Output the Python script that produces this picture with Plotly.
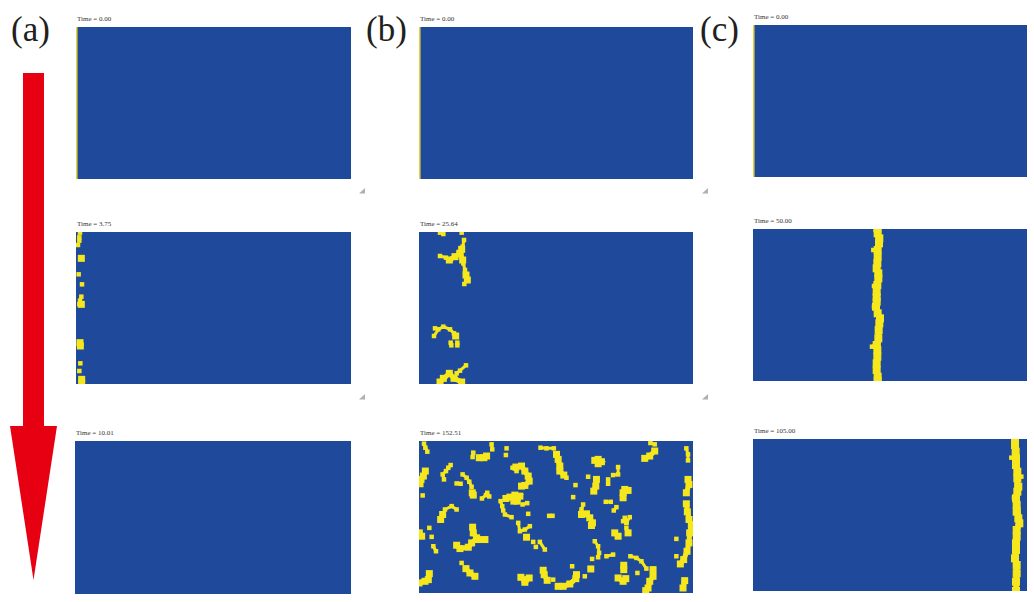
import plotly.graph_objects as go

W, H = 1034, 602
BLUE = "#1f4a9b"
YELLOW = "#f6e71d"

panel_times = ["Time = 0.00", "Time = 3.75", "Time = 10.01",
               "Time = 0.00", "Time = 25.64", "Time = 152.51",
               "Time = 0.00", "Time = 50.00", "Time = 105.00"]
group_labels = ["(a)", "(b)", "(c)"]

# Blob traces; each entry is one connected cluster.
a2_thick = [[(66, 145)], [(66, 283)], [(62, 398), (63, 408)], [(67, 508), (67, 518)]]
a2_thin = [[(62, 68)], [(60, 82), (60, 92)], [(56, 105)], [(58, 193)], [(68, 223)],
           [(66, 260), (62, 272)], [(60, 283)], [(63, 460)], [(60, 483)]]

b2_thick = [[(155, 118), (150, 130), (135, 140), (118, 150)], [(150, 130), (158, 150)],
            [(168, 195), (172, 210)], [(137, 378)],
            [(90, 516), (100, 505), (118, 490), (132, 505), (155, 516)]]
b2_thin = [[(90, 68)], [(100, 72)], [(155, 68)], [(162, 90), (158, 110)], [(90, 138), (108, 143)],
           [(160, 160), (165, 180)], [(163, 222)], [(72, 378), (85, 358), (100, 350), (120, 358), (132, 370)],
           [(75, 355)], [(168, 466), (150, 482), (140, 490)],
           [(122, 398), (124, 406)], [(142, 398), (142, 406)]]

b3_thick = [[(30, 178), (33, 165), (40, 155), (46, 140)], [(208, 100), (222, 100), (230, 95)],
            [(187, 205), (190, 212)],
            [(318, 128), (335, 125), (345, 140), (355, 155), (358, 170), (345, 183), (335, 185)],
            [(288, 222), (300, 218), (315, 212), (330, 215), (322, 230), (312, 230)],
            [(440, 90), (445, 105), (450, 125), (450, 140), (462, 152)],
            [(555, 108), (565, 105), (575, 112), (565, 118)], [(705, 102), (720, 95), (735, 80)],
            [(560, 165), (558, 185), (552, 200)], [(645, 195), (655, 198), (640, 205), (640, 220)],
            [(515, 270), (530, 268), (540, 280), (548, 295), (545, 303)], [(92, 285), (98, 270)],
            [(28, 325), (35, 335)],
            [(188, 308), (190, 325), (200, 340), (185, 355), (175, 368), (150, 372), (140, 362)],
            [(205, 345), (225, 345)], [(350, 338)], [(655, 325)], [(615, 325), (625, 335)],
            [(168, 432), (180, 445), (195, 455)], [(27, 475), (45, 470), (55, 465), (58, 447)],
            [(333, 458), (345, 465), (358, 460), (345, 473)], [(400, 437), (403, 450), (412, 467)],
            [(445, 485), (460, 485), (480, 478), (498, 462), (500, 450)], [(543, 433)],
            [(642, 422), (642, 435)], [(625, 460), (640, 470), (648, 462)],
            [(730, 435), (730, 455), (720, 470), (715, 490), (708, 498)],
            [(835, 165), (838, 180), (830, 205)], [(830, 238), (833, 262), (838, 285)],
            [(845, 300), (840, 325), (838, 355), (832, 380), (822, 405), (812, 418)],
            [(825, 468), (820, 490)]]
b3_thin = [[(42, 58), (46, 70), (52, 82)], [(102, 165), (98, 150), (108, 140), (115, 130), (122, 122)],
           [(38, 213)], [(190, 85), (188, 98)], [(245, 60), (247, 75)], [(290, 72)], [(288, 92)],
           [(158, 150), (170, 160), (178, 172), (185, 187)], [(140, 177), (152, 178)],
           [(216, 222), (228, 212), (232, 205), (238, 216)], [(308, 130), (320, 140)],
           [(272, 230), (277, 245), (280, 258)], [(285, 270), (305, 278)], [(338, 240), (352, 236)],
           [(355, 268)], [(392, 70), (410, 72), (432, 72)], [(470, 160)], [(497, 182)], [(490, 218)],
           [(722, 56), (735, 60)], [(625, 128), (625, 150), (610, 152)], [(535, 157)],
           [(595, 165), (595, 178)], [(588, 232), (603, 232)], [(620, 248), (612, 258)],
           [(520, 240), (515, 255)], [(418, 274), (428, 274)], [(105, 255), (125, 245), (140, 255)],
           [(58, 310)], [(65, 337)], [(70, 365), (78, 380)],
           [(325, 295), (330, 320), (345, 315), (360, 305)], [(370, 352)], [(390, 352), (405, 375)],
           [(378, 367)], [(555, 350), (565, 365), (568, 385), (565, 398)], [(590, 395), (610, 390)],
           [(547, 403)], [(645, 280), (650, 295), (640, 290)], [(650, 295), (660, 278)], [(650, 310)],
           [(662, 395), (680, 400), (695, 410), (710, 432)], [(155, 415)], [(430, 465)], [(487, 425)],
           [(525, 455)], [(683, 445)], [(830, 72), (835, 90), (835, 108)], [(800, 343)], [(800, 395)]]

c2_front = [[(82, 55), (83, 70), (88, 85), (87, 100), (83, 120), (83, 140), (82, 160), (80, 175), (85, 190),
             (85, 205), (82, 225), (80, 245), (80, 262), (80, 275), (78, 290), (83, 310), (90, 325), (88, 340),
             (86, 360), (85, 385), (80, 405), (82, 420), (82, 440), (80, 460), (80, 480), (83, 500), (83, 512)]]
c2_thin = [[(70, 120)], [(66, 410), (74, 408)], [(72, 290)], [(72, 228)]]
c3_front = [[(75, 42), (75, 60), (77, 80), (78, 100), (78, 120), (82, 140), (82, 160), (85, 185), (82, 200),
             (78, 220), (80, 240), (80, 260), (85, 280), (88, 295), (80, 315), (80, 335), (78, 355), (78, 375),
             (75, 400), (80, 420), (80, 445), (78, 470), (78, 498)]]
c3_thin = [[(64, 98)], [(94, 155)], [(70, 402)], [(72, 218)]]

# pixel box of each panel, and data window
boxes = [(76, 27, 351, 179), (76, 232, 351, 384), (75, 441, 351, 594),
         (419, 27, 693, 179), (419, 232, 693, 384), (419, 441, 693, 593),
         (753, 25, 1027, 177), (753, 229, 1027, 381), (753, 439, 1027, 591)]
windows = [(0, 823, 0, 456), (50, 875, 66, 522), (0, 823, 0, 456),
           (0, 823, 0, 456), (27, 849, 66, 522), (27, 850, 50, 505),
           (0, 823, 0, 456), (-291, 531, 57, 513), (-711, 111, 42, 498)]
start_line = [[(2, 0), (2, 456)]]
content = [
    ([], start_line),
    (a2_thick, a2_thin),
    ([], []),
    ([], start_line),
    (b2_thick, b2_thin),
    (b3_thick, b3_thin),
    ([], start_line),
    (c2_front, c2_thin),
    (c3_front, c3_thin),
]


def flat(strokes):
    xs, ys = [], []
    for s in strokes:
        xs += [p[0] for p in s] + [None]
        ys += [p[1] for p in s] + [None]
    return xs, ys


fig = go.Figure()
layout = dict(
    width=W, height=H, margin=dict(l=0, r=0, t=0, b=0), autosize=False,
    paper_bgcolor="white", plot_bgcolor=BLUE, showlegend=False,
)
annotations, shapes = [], []

for i, (box, win, (thick, thin)) in enumerate(zip(boxes, windows, content)):
    n = "" if i == 0 else str(i + 1)
    x0, y0, x1, y1 = box
    common = dict(showgrid=False, zeroline=False, showticklabels=False, ticks="", showline=False)
    layout["xaxis" + n] = dict(domain=[x0 / W, x1 / W], range=[win[0], win[1]],
                               anchor="y" + n, **common)
    layout["yaxis" + n] = dict(domain=[1 - y1 / H, 1 - y0 / H], range=[win[3], win[2]],
                               anchor="x" + n, **common)
    initial = i in (0, 3, 6)
    thick_style = (6, 8) if i >= 7 else (5, 7)
    layers = [(thick, thick_style), (thin, (1.8, 1.8) if initial else (3, 4.5))]
    drew = False
    for strokes, (lw, ms) in layers:
        if not strokes:
            continue
        drew = True
        xs, ys = flat(strokes)
        fig.add_trace(go.Scatter(
            x=xs, y=ys, xaxis="x" + n, yaxis="y" + n,
            mode="lines" if initial else "lines+markers", hoverinfo="skip",
            line=dict(color="#e3d23c" if initial else YELLOW, width=lw),
            marker=dict(color=YELLOW, size=ms, symbol="square"),
        ))
    if not drew:
        # an empty panel still needs a trace so that its background is drawn
        fig.add_trace(go.Scatter(x=[None], y=[None], xaxis="x" + n, yaxis="y" + n,
                                 mode="markers", hoverinfo="skip"))
    annotations.append(dict(
        text=panel_times[i], xref="paper", yref="paper", x=(x0 - 1) / W, y=1 - (y0 - 2) / H,
        xanchor="left", yanchor="bottom", showarrow=False,
        font=dict(family="Liberation Serif", size=7, color="#333333"),
    ))

for label, px in zip(group_labels, (30, 386, 719)):
    annotations.append(dict(
        text=label, xref="paper", yref="paper", x=px / W, y=1 - 30 / H,
        xanchor="center", yanchor="middle", showarrow=False,
        font=dict(family="Liberation Serif", size=35, color="#231f20"),
    ))

# the down arrow
shapes.append(dict(
    type="path", xref="paper", yref="paper", line=dict(width=0), fillcolor="#e60012",
    path="M {} {} L {} {} L {} {} L {} {} L {} {} L {} {} L {} {} Z".format(
        *[v for p in [(23, 73), (44, 73), (44, 426), (57, 426), (33.5, 580), (10, 426), (23, 426)]
          for v in (p[0] / W, 1 - p[1] / H)]),
))
# small resize glyphs
for px, py in [(362, 191), (705, 191), (362, 397), (705, 397)]:
    shapes.append(dict(
        type="path", xref="paper", yref="paper", line=dict(width=0), fillcolor="#b0b0b0",
        path="M {} {} L {} {} L {} {} Z".format(
            (px - 3) / W, 1 - (py + 2.5) / H, (px + 3) / W, 1 - (py + 2.5) / H, (px + 3) / W, 1 - (py - 3) / H),
    ))

layout["annotations"] = annotations
layout["shapes"] = shapes
fig.update_layout(**layout)
fig.write_html("out.html", config={"displayModeBar": False},
               post_script="document.body.style.margin='0';document.documentElement.style.overflow='hidden';")
